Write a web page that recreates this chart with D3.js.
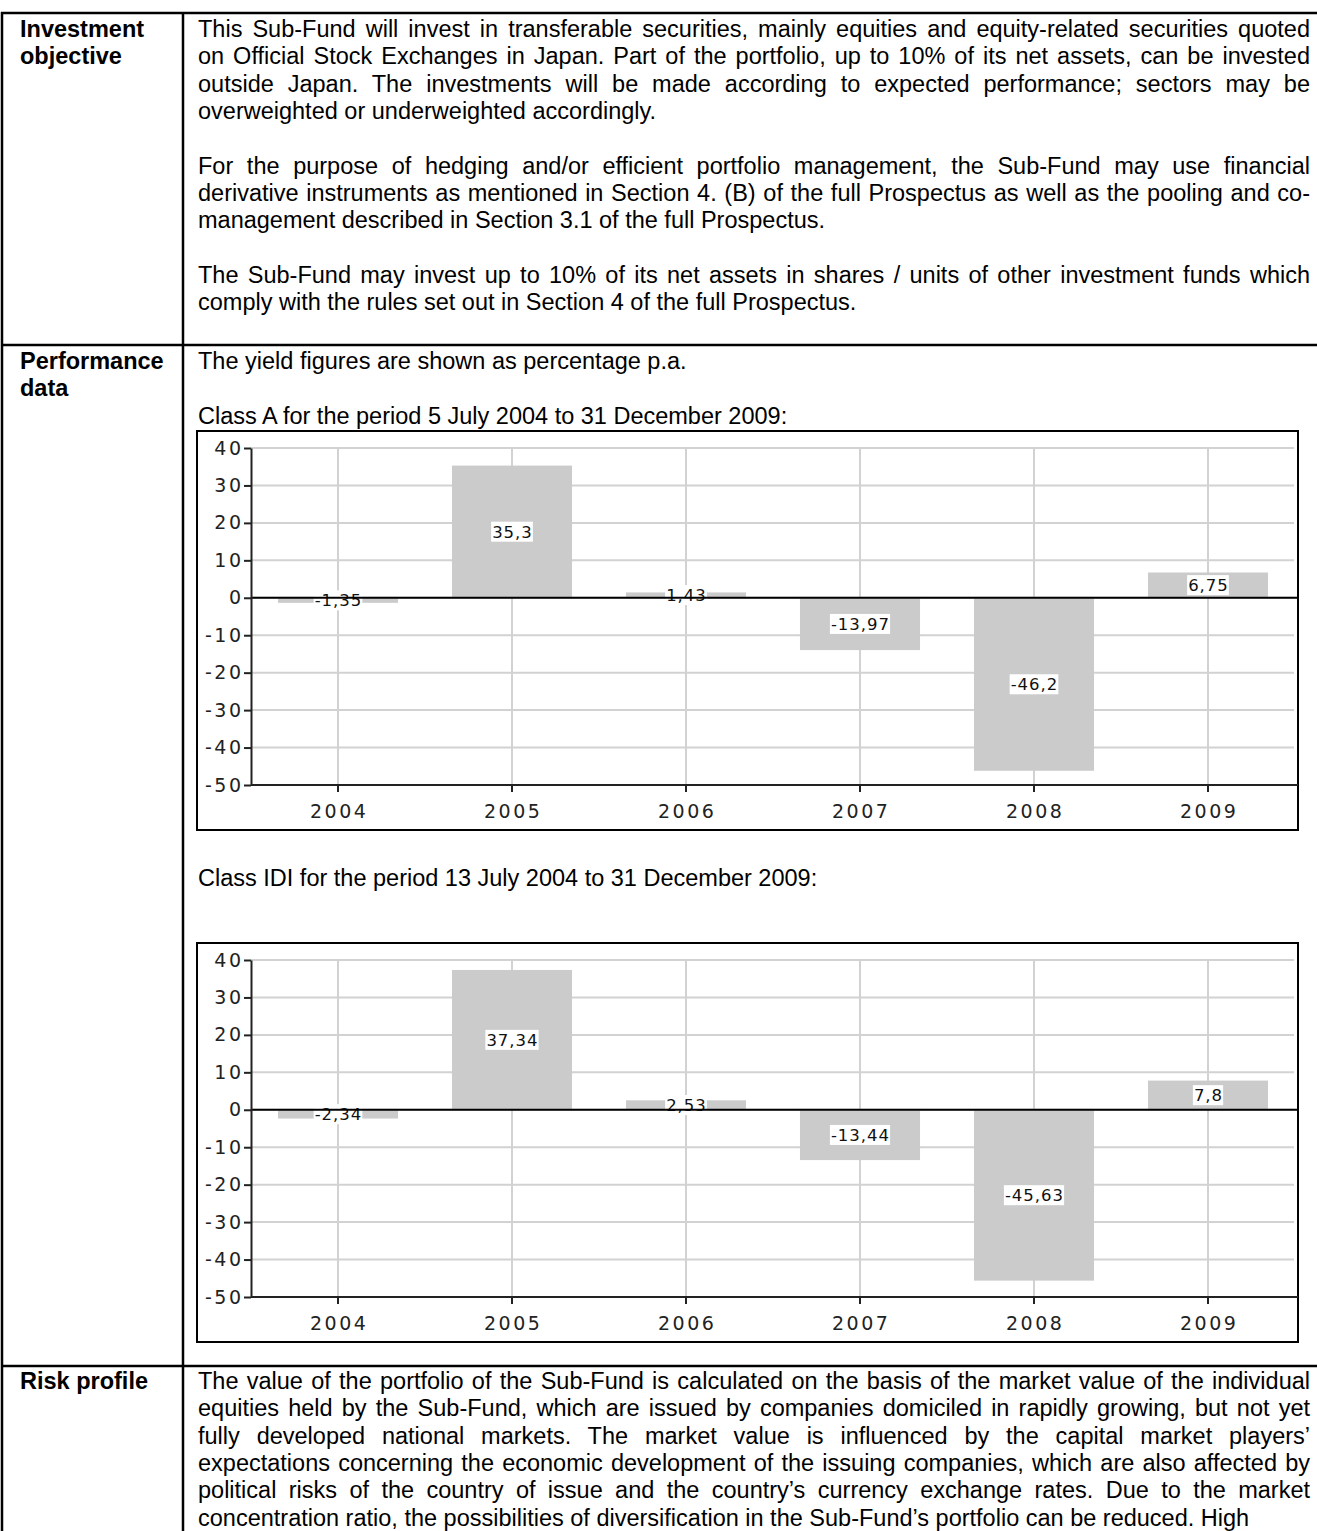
<!DOCTYPE html>
<html>
<head>
<meta charset="utf-8">
<script src="https://cdn.jsdelivr.net/npm/d3@7"></script>
<style>
  body { margin: 0; background: #fff; }
  svg { display: block; }
</style>
</head>
<body>
<svg id="page" width="1317" height="1531"></svg>
<script>
// ------------------------------
// Data
// ------------------------------
const years = ["2004", "2005", "2006", "2007", "2008", "2009"];
const classA = [-1.35, 35.3, 1.43, -13.97, -46.2, 6.75];
const classIDI = [-2.34, 37.34, 2.53, -13.44, -45.63, 7.8];
const yTicks = [40, 30, 20, 10, 0, -10, -20, -30, -40, -50];

// text of the table, one entry per printed line (null = blank line)
const objectiveText = [
  "This Sub-Fund will invest in transferable securities, mainly equities and equity-related securities quoted",
  "on Official Stock Exchanges in Japan. Part of the portfolio, up to 10% of its net assets, can be invested",
  "outside Japan. The investments will be made according to expected performance; sectors may be",
  "overweighted or underweighted accordingly.",
  null,
  "For the purpose of hedging and/or efficient portfolio management, the Sub-Fund may use financial",
  "derivative instruments as mentioned in Section 4. (B) of the full Prospectus as well as the pooling and co-",
  "management described in Section 3.1 of the full Prospectus.",
  null,
  "The Sub-Fund may invest up to 10% of its net assets in shares / units of other investment funds which",
  "comply with the rules set out in Section 4 of the full Prospectus."
];
const riskText = [
  "The value of the portfolio of the Sub-Fund is calculated on the basis of the market value of the individual",
  "equities held by the Sub-Fund, which are issued by companies domiciled in rapidly growing, but not yet",
  "fully developed national markets. The market value is influenced by the capital market players’",
  "expectations concerning the economic development of the issuing companies, which are also affected by",
  "political risks of the country of issue and the country’s currency exchange rates. Due to the market",
  "concentration ratio, the possibilities of diversification in the Sub-Fund’s portfolio can be reduced. High"
];

// ------------------------------
// Layout
// ------------------------------
const svg = d3.select("#page");
const textX = 198;
const textWidth = 1112;
const lineStep = 27.3;
const bodySize = 23.5;
const bodyFont = "'Liberation Sans', Arial, sans-serif";
const chartFont = "'DejaVu Sans', sans-serif";

// draw one line; justified lines get extra word spacing to fill the column
function drawLine(g, str, x, y, justify) {
  const t = g.append("text").attr("x", x).attr("y", y).text(str);
  if (justify) {
    const natural = t.node().getComputedTextLength();
    const spaces = (str.match(/ /g) || []).length;
    if (spaces) t.attr("word-spacing", (textWidth - natural) / spaces);
  }
}

// draws a block of lines; the last line of each paragraph is left aligned
function drawBlock(lines, y0) {
  const g = svg.append("g")
    .attr("font-family", bodyFont)
    .attr("font-size", bodySize)
    .attr("fill", "#000");
  lines.forEach((str, i) => {
    if (!str) return;
    const next = lines[i + 1];
    const justify = next !== null && next !== undefined;
    drawLine(g, str, textX, y0 + i * lineStep, justify);
  });
}

// ------------------------------
// Table frame and row headers
// ------------------------------
const rowTops = [13, 345, 1366];
const table = svg.append("g").attr("stroke", "#000").attr("stroke-width", 2.5);
rowTops.forEach((y) => table.append("line").attr("x1", 1).attr("x2", 1317).attr("y1", y).attr("y2", y));
table.append("line").attr("x1", 2).attr("x2", 2).attr("y1", 12).attr("y2", 1531);
table.append("line").attr("x1", 183).attr("x2", 183).attr("y1", 12).attr("y2", 1531);

const headers = svg.append("g")
  .attr("font-family", bodyFont)
  .attr("font-size", bodySize)
  .attr("font-weight", "bold");
[["Investment", 37], ["objective", 64.3], ["Performance", 369], ["data", 396.3], ["Risk profile", 1389]]
  .forEach(([s, y]) => headers.append("text").attr("x", 20).attr("y", y).text(s));

drawBlock(objectiveText, 37);
drawBlock(riskText, 1389);
drawBlock(["The yield figures are shown as percentage p.a."], 369);
drawBlock(["Class A for the period 5 July 2004 to 31 December 2009:"], 424);
drawBlock(["Class IDI for the period 13 July 2004 to 31 December 2009:"], 886);

// ------------------------------
// Bar charts
// ------------------------------
function fmt(v) {
  return String(v).replace(".", ",");
}

function drawChart(values, top) {
  const w = 1101, h = 399;
  const g = svg.append("g").attr("transform", `translate(197,${top})`);

  g.append("rect").attr("width", w).attr("height", h)
    .attr("fill", "#fff").attr("stroke", "#000").attr("stroke-width", 2);

  const x = d3.scaleBand().domain(years).range([54, 54 + 6 * 174])
    .paddingInner(0.31).paddingOuter(0.155);
  const y = d3.scaleLinear().domain([-50, 40]).range([354, 17]);
  const cx = (d) => x(d) + x.bandwidth() / 2;

  // grid
  const grid = g.append("g").attr("stroke", "#d2d2d2").attr("stroke-width", 2);
  grid.selectAll("line.h").data(yTicks).join("line").attr("class", "h")
    .attr("x1", 54).attr("x2", w - 4).attr("y1", (d) => y(d)).attr("y2", (d) => y(d));
  grid.selectAll("line.v").data(years).join("line").attr("class", "v")
    .attr("x1", cx).attr("x2", cx).attr("y1", y(40)).attr("y2", y(-50));

  // bars
  g.selectAll("rect.bar").data(values).join("rect").attr("class", "bar")
    .attr("x", (d, i) => x(years[i]))
    .attr("width", x.bandwidth())
    .attr("y", (d) => y(Math.max(0, d)))
    .attr("height", (d) => Math.abs(y(d) - y(0)))
    .attr("fill", "#cbcbcb");

  // value labels in white boxes at the middle of each bar
  const labels = g.append("g").attr("font-family", chartFont).attr("font-size", 16.5)
    .attr("letter-spacing", 1);
  values.forEach((v, i) => {
    const ly = (y(v) + y(0)) / 2;
    const box = labels.append("rect").attr("fill", "#fff");
    const t = labels.append("text").attr("x", cx(years[i])).attr("y", ly)
      .attr("text-anchor", "middle").attr("dx", 0.5).attr("dy", "0.36em").attr("fill", "#111")
      .text(fmt(v));
    const bb = t.node().getBBox();
    box.attr("x", bb.x - 1).attr("y", ly - 10).attr("width", bb.width + 1).attr("height", 20);
  });

  // zero line
  g.append("line").attr("x1", 54).attr("x2", w).attr("y1", y(0)).attr("y2", y(0))
    .attr("stroke", "#000").attr("stroke-width", 2);

  // axes
  const yAxis = g.append("g").attr("transform", "translate(54,0)")
    .call(d3.axisLeft(y).tickValues(yTicks).tickFormat((d) => String(d))
      .tickSize(7).tickSizeOuter(0).tickPadding(3));
  const xAxis = g.append("g").attr("transform", `translate(0,${y(-50)})`)
    .call(d3.axisBottom(x).tickSize(7).tickSizeOuter(0).tickPadding(13));
  xAxis.select(".domain").attr("d", `M54,0H${w}`);
  [yAxis, xAxis].forEach((a) => {
    a.selectAll("path, line").attr("stroke", "#222").attr("stroke-width", 2);
    a.selectAll("text").attr("font-family", chartFont).attr("font-size", 19)
      .attr("letter-spacing", 2.5).attr("fill", "#222");
  });
  yAxis.selectAll("text").attr("dx", 2.5);
  xAxis.selectAll("text").attr("dx", 1.2);
}

drawChart(classA, 431);
drawChart(classIDI, 943);
</script>
</body>
</html>
